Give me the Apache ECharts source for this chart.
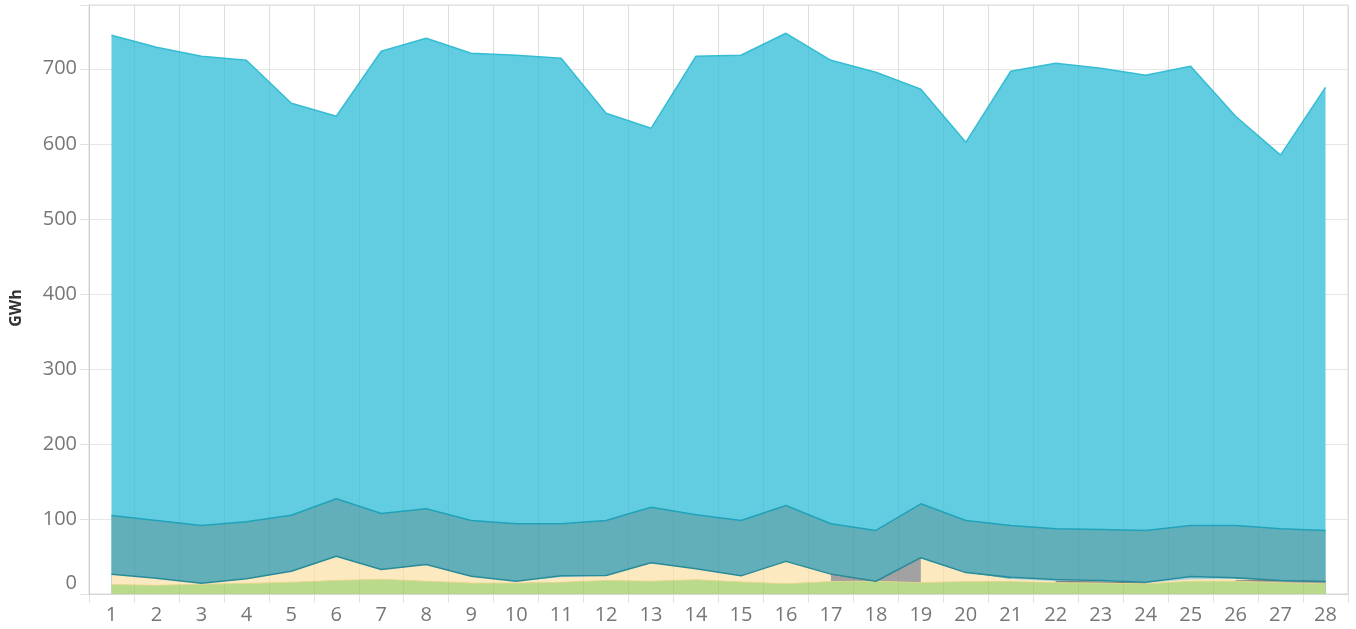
<!DOCTYPE html>
<html>
<head>
<meta charset="utf-8">
<script src="https://cdn.jsdelivr.net/npm/echarts@6/dist/echarts.min.js"></script>
<style>
html,body{margin:0;padding:0;background:#fff;}
#chart{width:1356px;height:629px;}
</style>
</head>
<body>
<div id="chart"></div>
<script>
const days = ['1','2','3','4','5','6','7','8','9','10','11','12','13','14','15','16','17','18','19','20','21','22','23','24','25','26','27','28'];
const yTicks = [0,100,200,300,400,500,600,700];

// stacked components, bottom to top (GWh)
const green = [12.5,11.5,13,14,15.5,18,19.5,17,14.5,14.5,15.5,18,17,19,16,13.5,16.5,17,15,16.5,16.5,15,14.5,13.5,17,17,15,13.5];
const grey = [null,null,null,null,null,null,null,null,null,null,null,null,null,null,null,null,10,0,33.4,null,null,2,1.5,1,null,0.5,3,3.2];
const yellow = [13.9,9.5,1.4,6.2,14.9,32.4,13.2,22.3,9.2,2.5,6.7,6.7,24.6,14.6,8.2,30,0,0,0,12,3.5,0,0,0,2.5,2.5,0,0];
const lightBlue = [null,null,null,null,null,null,null,null,null,0,2,0,null,null,null,null,null,null,null,null,2.4,2.3,2,1.3,3.8,1.5,null,null];
const teal = [78.3,77,76.9,76,74.6,76.6,74.6,74.3,74.3,76.6,69.4,73.3,74.1,72,73.8,74.5,67.1,67.7,71.8,69.5,68.9,67.7,68,68.9,68,69.8,69,68];
const cyan = [640,630.7,625.4,615.1,549,509.7,616,627.1,622.7,624.4,620.4,542.7,505,611.1,620,629.3,617.7,610.6,552.5,504,605.4,620.3,614.7,606.6,612,545.4,498,590.6];

const layers = [
  {name:'green', data:green, fill:'#b8da8a', line:'#e0d88e', lw:1},
  {name:'grey', data:grey, fill:'#a2a2a2', line:'#7b7b7b', lw:1},
  {name:'yellow', data:yellow, fill:'#fde9bf', line:'#f3d98f', lw:0},
  {name:'lightBlue', data:lightBlue, fill:'#a9d2de', line:'#8fc4d4', lw:1},
  {name:'teal', data:teal, fill:'#63afb9', line:'#20a3ba', lw:1.5},
  {name:'cyan', data:cyan, fill:'#62cde0', line:'#34bdd3', lw:1.5}
];

// cumulative tops (Tableau-like overlaid stacked areas)
const running = days.map(() => 0);
const cumData = layers.map(l => l.data.map((v, i) => {
  if (v === null) return null;
  running[i] += v;
  return +running[i].toFixed(2);
}));
// boundary under the teal layer
const tealBase = days.map((d, i) => {
  let s = 0;
  for (let k = 0; k < 4; k++) { const v = layers[k].data[i]; if (v !== null) s += v; }
  return +s.toFixed(2);
});

const series = layers.map((l, k) => ({
  name: l.name,
  type: 'line',
  data: cumData[k],
  symbol: 'none',
  connectNulls: false,
  z: 8 - k,
  lineStyle: {color: l.line, width: l.lw},
  areaStyle: {color: l.fill, opacity: 1, origin: 'start'},
  emphasis: {disabled: true}
}));
series.push({
  name: 'boundary',
  type: 'line',
  data: tealBase,
  symbol: 'none',
  z: 9,
  lineStyle: {color: '#278c9a', width: 1.5},
  emphasis: {disabled: true}
});

const chart = echarts.init(document.getElementById('chart'), null, {renderer: 'canvas'});
chart.setOption({
  animation: false,
  backgroundColor: '#fff',
  grid: {left: 89, right: 8, top: 5, bottom: 35, show: true, borderColor: '#d9d9d9', borderWidth: 1, backgroundColor: 'transparent'},
  graphic: [{
    type: 'text',
    style: {text: 'GWh', font: 'bold 16px "Open Sans", sans-serif', fill: '#333', align: 'center', verticalAlign: 'middle'},
    rotation: Math.PI / 2, x: 16, y: 308
  }],
  xAxis: [{
    type: 'category',
    data: days,
    boundaryGap: true,
    axisLine: {show: false},
    axisTick: {show: true, length: 9, lineStyle: {color: '#e3e3e3'}},
    axisLabel: {color: '#777', fontSize: 20, fontFamily: '"Open Sans", sans-serif', margin: 11},
    splitLine: {show: true, lineStyle: {color: '#e6e6e6', width: 1}}
  }, {
    type: 'category',
    data: days,
    boundaryGap: true,
    position: 'bottom',
    z: 10,
    axisLine: {show: true, lineStyle: {color: '#d6d6d6', width: 1}},
    axisTick: {show: false},
    axisLabel: {show: false},
    splitLine: {show: true, lineStyle: {color: 'rgba(0,0,0,0.04)', width: 1}}
  }],
  yAxis: {
    type: 'value',
    min: 0,
    max: 785,
    interval: 100,
    axisLine: {show: true, lineStyle: {color: '#d9d9d9'}},
    axisTick: {show: true, length: 9, lineStyle: {color: '#e3e3e3'}},
    axisLabel: {
      color: '#777', fontSize: 20, fontFamily: '"Open Sans", sans-serif', margin: 12,
      formatter: v => yTicks.indexOf(v) < 0 ? '' : (v === 0 ? '{z|0}' : String(v)),
      rich: {z: {color: '#777', fontSize: 20, fontFamily: '"Open Sans", sans-serif', padding: [0, 0, 22, 0]}}
    },
    splitLine: {show: true, lineStyle: {color: '#e6e6e6', width: 1}}
  },
  series: series
});
</script>
</body>
</html>
